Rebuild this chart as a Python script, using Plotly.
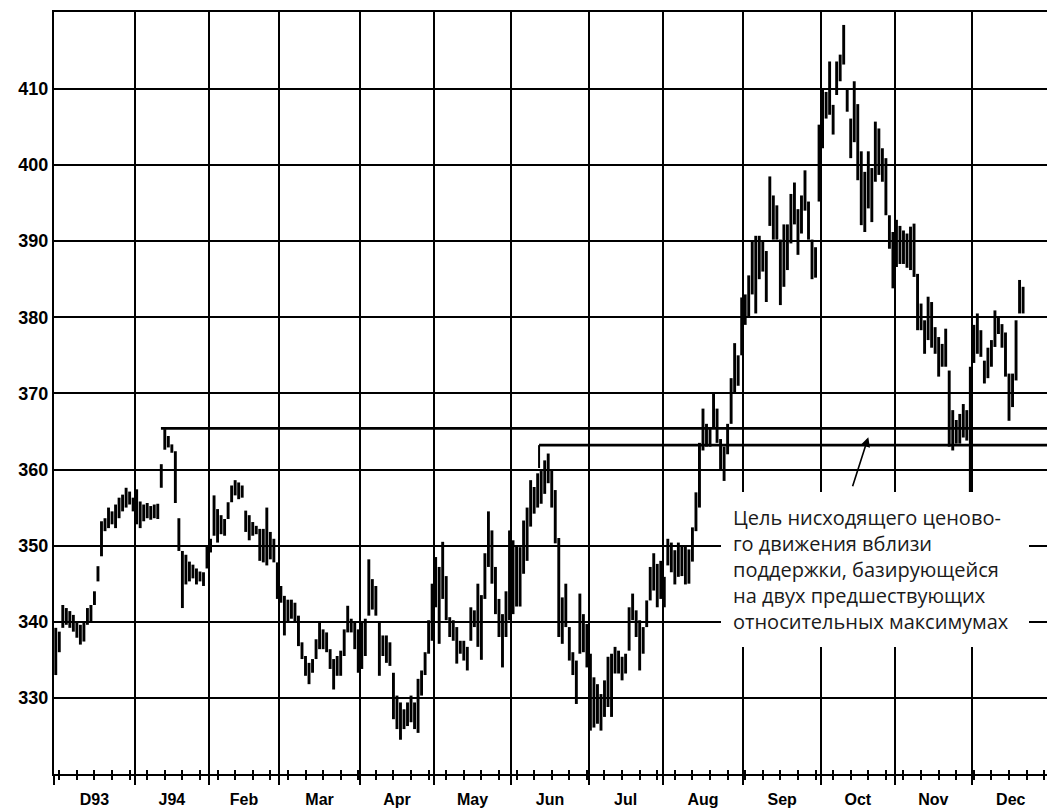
import plotly.graph_objects as go

# ---------------- data ----------------
month_labels = ["D93", "J94", "Feb", "Mar", "Apr", "May", "Jun", "Jul", "Aug", "Sep", "Oct", "Nov", "Dec"]
month_days = [23, 21, 20, 23, 21, 22, 22, 21, 23, 22, 21, 22, 22]   # trading days per month
y_ticks = [330, 340, 350, 360, 370, 380, 390, 400, 410]

dec93_low  = [333.0, 336.0, 339.2, 339.6, 339.2, 338.7, 337.9, 337.0, 337.4, 339.6, 340.0, 342.2, 345.3, 348.6, 351.9, 352.3, 352.8, 352.3, 353.6, 354.5, 355.0, 355.4, 354.5]
dec93_high = [339.2, 338.7, 342.2, 341.8, 341.4, 340.9, 340.0, 339.6, 340.0, 341.8, 342.2, 344.0, 347.3, 353.2, 353.6, 355.0, 354.5, 355.4, 356.3, 356.7, 357.6, 357.1, 356.3]
jan94_low  = [352.8, 352.3, 353.2, 353.6, 353.4, 353.6, 353.5, 357.6, 362.6, 362.9, 362.2, 355.6, 349.3, 341.8, 344.9, 345.3, 345.7, 344.9, 345.3, 344.7, 347.0]
jan94_high = [357.4, 355.8, 355.4, 355.6, 355.2, 355.4, 355.5, 360.7, 365.3, 364.4, 363.3, 362.4, 353.6, 349.3, 348.8, 347.9, 347.5, 347.0, 346.6, 346.5, 350.0]
feb94_low  = [349.1, 351.3, 350.4, 351.5, 351.3, 353.5, 355.7, 356.6, 356.1, 356.3, 351.8, 350.7, 351.3, 351.5, 348.0, 347.8, 347.4, 348.2, 347.8, 343.0]
feb94_high = [350.9, 356.6, 354.8, 354.0, 353.5, 355.7, 357.9, 358.6, 358.3, 357.9, 354.6, 354.0, 353.1, 352.6, 352.2, 352.2, 355.0, 351.8, 350.9, 347.8]
mar94_low  = [342.5, 338.2, 339.9, 340.4, 339.9, 336.8, 335.1, 332.9, 331.8, 333.3, 335.1, 336.4, 336.4, 336.0, 333.8, 331.1, 332.9, 332.9, 335.5, 338.6, 338.6, 336.4, 333.3]
mar94_high = [344.7, 343.4, 342.9, 342.9, 342.5, 340.8, 337.3, 335.5, 334.6, 335.1, 337.7, 339.9, 339.0, 338.6, 336.4, 335.1, 335.5, 336.2, 339.0, 342.1, 340.4, 339.9, 339.0]
apr94_low  = [333.8, 335.5, 340.8, 341.6, 340.8, 332.9, 335.5, 334.6, 334.2, 327.2, 325.9, 324.5, 325.9, 326.3, 326.8, 325.9, 325.4, 330.3, 333.0, 335.8, 337.5]
apr94_high = [339.9, 340.4, 348.2, 345.6, 344.7, 339.9, 338.2, 338.2, 337.3, 333.3, 330.3, 329.4, 328.5, 329.4, 330.3, 329.4, 332.5, 333.6, 336.0, 340.2, 345.0]
may94_low  = [341.9, 337.1, 343.0, 340.2, 338.0, 337.5, 334.5, 335.8, 334.9, 333.6, 337.5, 339.3, 336.7, 335.0, 343.0, 347.2, 345.0, 341.0, 338.0, 334.0, 338.0, 340.2]
may94_high = [348.5, 347.2, 350.5, 346.0, 340.6, 340.2, 339.3, 337.5, 337.5, 336.7, 341.9, 341.5, 345.0, 343.5, 349.0, 354.5, 352.0, 347.2, 343.0, 341.0, 344.0, 352.0]
jun94_low  = [341.0, 342.0, 342.0, 346.3, 348.0, 352.5, 354.2, 355.0, 355.5, 356.8, 358.2, 355.0, 350.3, 338.0, 337.1, 339.3, 334.9, 333.0, 329.2, 335.8, 336.0, 334.0]
jun94_high = [350.7, 350.0, 349.8, 353.3, 355.0, 358.6, 357.7, 359.5, 359.8, 361.2, 362.1, 360.0, 357.3, 351.0, 343.2, 345.0, 339.3, 336.0, 334.9, 343.7, 341.0, 339.7]
jul94_low  = [325.7, 326.1, 326.6, 325.7, 327.5, 328.8, 327.5, 333.2, 333.2, 332.3, 333.2, 336.2, 340.2, 338.0, 333.6, 335.8, 339.3, 342.8, 344.1, 341.9, 343.0]
jul94_high = [335.8, 332.7, 331.8, 330.5, 332.3, 335.4, 335.8, 336.7, 336.2, 335.4, 335.8, 341.9, 343.7, 341.5, 340.2, 339.3, 342.8, 347.2, 349.0, 347.6, 348.0]
aug94_low  = [341.9, 347.4, 346.5, 344.9, 345.9, 346.0, 344.9, 345.0, 347.9, 351.9, 355.0, 362.5, 363.0, 363.0, 365.5, 363.5, 360.0, 358.5, 362.0, 366.0, 370.0, 371.0, 375.0]
aug94_high = [345.9, 350.9, 350.4, 349.4, 350.4, 350.0, 349.9, 349.5, 352.4, 357.0, 363.5, 368.0, 366.0, 365.5, 370.0, 368.0, 364.0, 363.0, 366.0, 372.0, 376.6, 375.0, 382.6]
sep94_low  = [379.0, 380.0, 383.0, 380.5, 385.0, 386.0, 382.0, 392.0, 390.2, 390.2, 381.6, 384.0, 386.2, 389.7, 392.2, 388.2, 391.0, 394.0, 390.2, 385.0, 385.2, 395.2]
sep94_high = [383.0, 385.5, 390.0, 390.7, 390.7, 390.0, 388.7, 398.5, 396.0, 394.7, 390.2, 392.2, 392.2, 396.2, 397.7, 394.2, 396.0, 399.3, 395.2, 390.2, 389.2, 405.3]
oct94_low  = [402.2, 406.1, 406.6, 404.0, 409.2, 411.0, 413.2, 407.0, 400.9, 403.0, 398.0, 392.1, 391.2, 394.3, 392.5, 397.8, 398.7, 397.8, 393.4, 389.0, 383.8]
oct94_high = [410.0, 409.6, 413.6, 407.9, 413.6, 414.5, 418.4, 410.1, 406.1, 411.0, 408.0, 401.8, 399.1, 401.8, 399.6, 405.7, 404.8, 402.2, 400.9, 393.4, 391.2]
nov94_low  = [386.6, 387.0, 387.0, 386.5, 386.2, 385.3, 378.3, 378.3, 375.2, 377.0, 376.0, 375.2, 372.2, 373.5, 373.5, 363.0, 362.5, 363.4, 363.4, 364.2, 363.8, 356.0]
nov94_high = [392.8, 392.0, 391.4, 391.0, 391.9, 392.3, 385.7, 381.8, 379.6, 382.7, 382.0, 378.7, 377.4, 376.5, 378.5, 373.0, 367.8, 366.5, 367.3, 368.6, 367.8, 373.5]
dec94_low  = [374.0, 375.2, 374.8, 371.3, 372.0, 373.5, 376.1, 377.8, 376.0, 372.2, 366.4, 368.2, 371.7, 380.5, 380.5]
dec94_high = [379.0, 380.5, 378.3, 374.3, 376.0, 377.0, 380.9, 380.0, 379.1, 378.0, 372.6, 372.6, 379.6, 384.9, 384.0]

# support lines: price level and trading-day index where each line starts
support_levels = [365.4, 363.2]
support_from = [29.9, 137.4]
support_tick_to = [None, 360.2]

note_text = ("Цель нисходящего ценово-<br>го движения вблизи<br>поддержки, базирующейся"
             "<br>на двух предшествующих<br>относительных максимумах")

# ---------------- build ----------------
lows = [dec93_low, jan94_low, feb94_low, mar94_low, apr94_low, may94_low, jun94_low,
        jul94_low, aug94_low, sep94_low, oct94_low, nov94_low, dec94_low]
highs = [dec93_high, jan94_high, feb94_high, mar94_high, apr94_high, may94_high, jun94_high,
         jul94_high, aug94_high, sep94_high, oct94_high, nov94_high, dec94_high]

starts = []
c = 0
for n in month_days:
    starts.append(c)
    c += n
bounds = [s - 0.5 for s in starts]
centers = [s - 0.5 + n / 2 for s, n in zip(starts, month_days)]
minor_vals = list(range(1, c, 5))

bx, by = [], []
for s, lo_list, hi_list in zip(starts, lows, highs):
    for k, (lo, hi) in enumerate(zip(lo_list, hi_list)):
        bx += [s + k, s + k, None]
        by += [lo, hi, None]

x_range = [-0.5, 281.8]
y_range = [320, 420.1]

fig = go.Figure()
fig.add_trace(go.Scatter(x=bx, y=by, mode="lines", line=dict(color="black", width=2.9),
                         hoverinfo="skip", showlegend=False))
for ax in ["x2", "x3"]:
    fig.add_trace(go.Scatter(x=[centers[0]], y=[y_ticks[0]], xaxis=ax, yaxis="y", mode="markers",
                             marker=dict(opacity=0), hoverinfo="skip", showlegend=False))

tickfont_x = dict(family="Liberation Sans, Arial, sans-serif", size=16, color="black", weight="bold")
tickfont_y = dict(family="Liberation Sans, Arial, sans-serif", size=18, color="black", weight="bold")

fig.update_layout(
    width=1047, height=810,
    margin=dict(l=54, r=0, t=12, b=36),
    paper_bgcolor="white", plot_bgcolor="white",
    showlegend=False,
    xaxis=dict(range=x_range, tickmode="array", tickvals=bounds, showticklabels=False,
               ticks="outside", ticklen=9, tickwidth=2, tickcolor="black",
               minor=dict(tickmode="array", tickvals=minor_vals, ticks="outside", ticklen=4,
                          tickwidth=1.5, tickcolor="black"),
               showgrid=True, gridcolor="black", gridwidth=1.6,
               showline=True, linecolor="black", linewidth=2, mirror=True,
               zeroline=False, fixedrange=True),
    xaxis2=dict(range=x_range, overlaying="x", anchor="y", side="bottom", tickmode="array",
                tickvals=bounds, showticklabels=False, ticks="inside", ticklen=8, tickwidth=2,
                tickcolor="black",
                minor=dict(tickmode="array", tickvals=minor_vals, ticks="inside", ticklen=4,
                           tickwidth=1.5, tickcolor="black"),
                showgrid=False, showline=False, zeroline=False, fixedrange=True),
    xaxis3=dict(range=x_range, overlaying="x", anchor="y", side="bottom", tickmode="array",
                tickvals=centers, ticktext=month_labels, ticks="", tickfont=tickfont_x,
                ticklabelstandoff=14, showgrid=False, showline=False, zeroline=False,
                fixedrange=True),
    yaxis=dict(range=y_range, tickmode="array", tickvals=y_ticks, ticks="", tickfont=tickfont_y,
               ticklabelstandoff=0, showgrid=True, gridcolor="black", gridwidth=1.6,
               showline=True, linecolor="black", linewidth=2, zeroline=False, fixedrange=True),
)

for lvl, x0, tick_to in zip(support_levels, support_from, support_tick_to):
    fig.add_shape(type="line", xref="x", yref="y", x0=x0, x1=x_range[1], y0=lvl, y1=lvl,
                  line=dict(color="black", width=2.6))
    if tick_to is not None:
        fig.add_shape(type="line", xref="x", yref="y", x0=x0, x1=x0, y0=lvl, y1=tick_to,
                      line=dict(color="black", width=2))

# arrow from the note to the support zone
fig.add_annotation(x=231.0, y=364.25, ax=226.4, ay=357.6, xref="x", yref="y", axref="x", ayref="y",
                   text="", showarrow=True, arrowhead=2, arrowsize=1.2, arrowwidth=1.6,
                   arrowcolor="black", standoff=0)

fig.add_annotation(x=232.9, y=346.8, xref="x", yref="y", xanchor="center", yanchor="middle",
                   text=note_text, showarrow=False, align="left", width=284,
                   font=dict(family="Open Sans, Noto Sans, sans-serif", size=20, color="#1a1a1a"),
                   bgcolor="white", borderpad=12, borderwidth=0)

fig.write_html("out.html", config={"displayModeBar": False},
               post_script="document.body.style.margin='0';document.body.style.overflow='hidden';")
